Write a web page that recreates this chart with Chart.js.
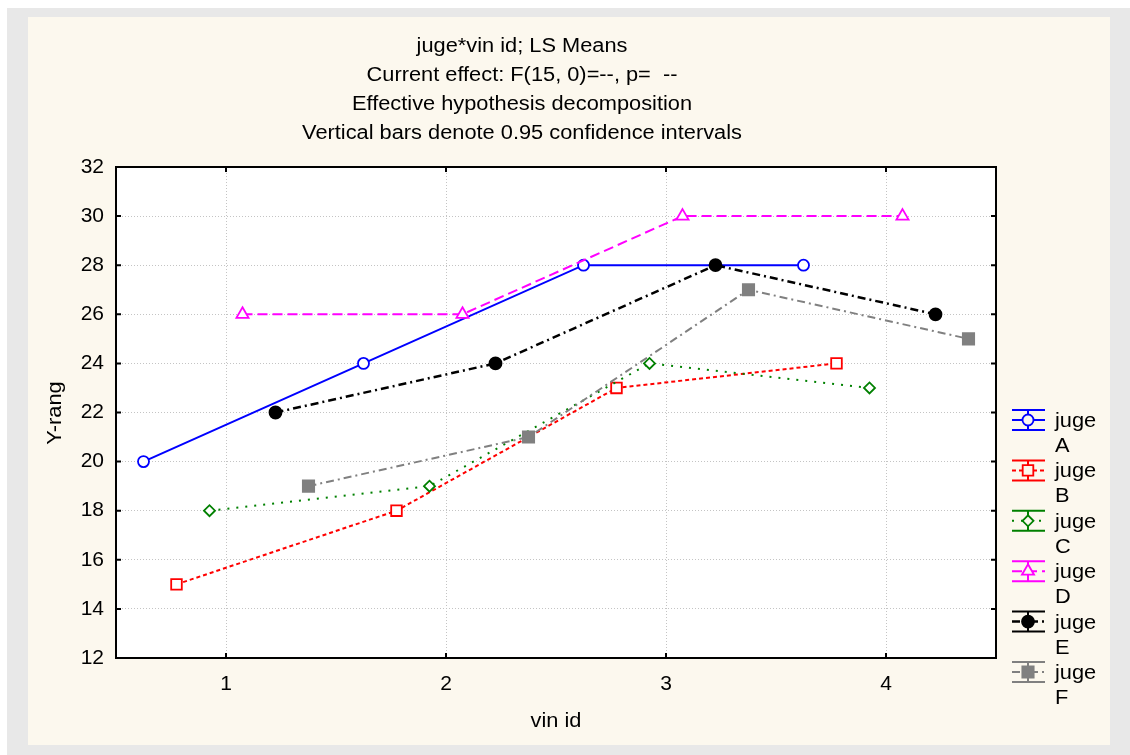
<!DOCTYPE html>
<html>
<head>
<meta charset="utf-8">
<script src="https://cdn.jsdelivr.net/npm/chart.js@4"></script>
<style>
    html, body { margin: 0; padding: 0; background: #ffffff; }
    canvas { display: block; }
</style>
</head>
<body>
<canvas id="chartLsMeans" width="1130" height="755"></canvas>
<script>
// valeurs
const vinIds = [1, 2, 3, 4];
const yTicks = [12, 14, 16, 18, 20, 22, 24, 26, 28, 30, 32];
const juges = ['A', 'B', 'C', 'D', 'E', 'F'];
const dodge = [-0.375, -0.225, -0.075, 0.075, 0.225, 0.375];

const rangA = [20, 24, 28, 28];
const rangB = [15, 18, 23, 24];
const rangC = [18, 19, 24, 23];
const rangD = [26, 26, 30, 30];
const rangE = [22, 24, 28, 26];
const rangF = [19, 21, 27, 25];

const titleLines = [
    'juge*vin id; LS Means',
    'Current effect: F(15, 0)=--, p=  --',
    'Effective hypothesis decomposition',
    'Vertical bars denote 0.95 confidence intervals'
];

const FONT = '"Liberation Sans", Arial, sans-serif';
const CREAM = '#fcf8ee';
const STRETCH = 1.09;

const styles = [
    { color: '#0000ff', dash: [], width: 2, point: 'circle', radius: 5.5, fill: '#ffffff' },
    { color: '#ff0000', dash: [4, 3], width: 2, point: 'rect', radius: 7.5, fill: '#ffffff' },
    { color: '#008000', dash: [2, 7], width: 2, point: 'rectRot', radius: 5.5, fill: '#ffffff' },
    { color: '#ff00ff', dash: [10, 5], width: 2, point: 'triangle', radius: 7, fill: '#ffffff' },
    { color: '#000000', dash: [8, 4, 2, 4], width: 2.5, point: 'circle', radius: 6, fill: '#000000' },
    { color: '#808080', dash: [8, 4, 2, 4], width: 2, point: 'rect', radius: 8, fill: '#808080' }
];

const series = [rangA, rangB, rangC, rangD, rangE, rangF];

function toPoints(values, i) {
    return values.map((v, k) => ({ x: vinIds[k] + dodge[i], y: v }));
}

const datasets = series.map((values, i) => {
    const s = styles[i];
    return {
        label: 'juge ' + juges[i],
        data: toPoints(values, i),
        borderColor: s.color,
        borderWidth: s.width,
        borderDash: s.dash,
        pointStyle: s.point,
        pointRadius: s.radius,
        pointBorderColor: s.color,
        pointBackgroundColor: s.fill,
        pointBorderWidth: 1.8,
        tension: 0,
        fill: false,
        order: 6 - i
    };
});

// texte un peu élargi comme dans l'original
function wideText(ctx, text, x, y) {
    ctx.save();
    ctx.translate(x, y);
    ctx.scale(STRETCH, 1);
    ctx.fillText(text, 0, 0);
    ctx.restore();
}

// fond gris + panneau crème
const backgroundPlugin = {
    id: 'backgroundPlugin',
    beforeDraw(chart) {
        const ctx = chart.ctx;
        const a = chart.chartArea;
        ctx.save();
        ctx.fillStyle = '#ffffff';
        ctx.fillRect(0, 0, chart.width, chart.height);
        ctx.fillStyle = '#e8e8e8';
        ctx.fillRect(7, 8, chart.width - 7, chart.height - 8);
        ctx.fillStyle = CREAM;
        ctx.fillRect(28, 17, 1082, 728);
        ctx.fillStyle = '#ffffff';
        ctx.fillRect(a.left, a.top, a.right - a.left, a.bottom - a.top);
        ctx.restore();
    }
};

// cadre, ticks intérieurs, titres, légende
const decorPlugin = {
    id: 'decorPlugin',
    afterDraw(chart) {
        const ctx = chart.ctx;
        const a = chart.chartArea;
        const xs = chart.scales.x;
        const ys = chart.scales.y;
        ctx.save();

        ctx.strokeStyle = '#000000';
        ctx.lineWidth = 2;
        ctx.setLineDash([]);
        ctx.strokeRect(a.left, a.top, a.right - a.left, a.bottom - a.top);

        ctx.beginPath();
        yTicks.forEach(v => {
            const py = ys.getPixelForValue(v);
            ctx.moveTo(a.left, py); ctx.lineTo(a.left + 5, py);
            ctx.moveTo(a.right, py); ctx.lineTo(a.right - 5, py);
        });
        vinIds.forEach(v => {
            const px = xs.getPixelForValue(v);
            ctx.moveTo(px, a.bottom); ctx.lineTo(px, a.bottom - 5);
            ctx.moveTo(px, a.top); ctx.lineTo(px, a.top + 5);
        });
        ctx.stroke();

        ctx.fillStyle = '#000000';
        ctx.font = '20px ' + FONT;
        ctx.textAlign = 'center';
        ctx.textBaseline = 'middle';
        titleLines.forEach((t, i) => wideText(ctx, t, 522, 46 + i * 29));

        wideText(ctx, 'vin id', (a.left + a.right) / 2, 721);
        ctx.save();
        ctx.translate(55, 413);
        ctx.rotate(-Math.PI / 2);
        wideText(ctx, 'Y-rang', 0, 0);
        ctx.restore();

        // légende
        const x1 = 1012, x2 = 1045, xc = 1028;
        chart.data.datasets.forEach((ds, i) => {
            const s = styles[i];
            const cy = 420 + i * 50.4;
            ctx.strokeStyle = s.color;
            ctx.lineWidth = 2;
            ctx.setLineDash([]);
            ctx.beginPath();
            ctx.moveTo(x1, cy - 10); ctx.lineTo(x2, cy - 10);
            ctx.moveTo(x1, cy + 10); ctx.lineTo(x2, cy + 10);
            ctx.moveTo(xc, cy - 10); ctx.lineTo(xc, cy + 10);
            ctx.stroke();
            ctx.setLineDash(s.dash);
            ctx.lineWidth = s.width;
            ctx.beginPath();
            ctx.moveTo(x1, cy); ctx.lineTo(x2, cy);
            ctx.stroke();
            ctx.setLineDash([]);
            ctx.fillStyle = s.fill === '#ffffff' ? CREAM : s.fill;
            ctx.strokeStyle = s.color;
            ctx.lineWidth = 1.8;
            Chart.helpers.drawPoint(ctx, {
                pointStyle: s.point, radius: s.radius, rotation: 0, borderWidth: 1.8
            }, xc, cy);

            ctx.fillStyle = '#000000';
            ctx.textAlign = 'left';
            ctx.textBaseline = 'alphabetic';
            ctx.font = '20px ' + FONT;
            wideText(ctx, 'juge', 1055, cy + 7);
            wideText(ctx, juges[i], 1055, cy + 32);
        });
        ctx.restore();
    }
};

const chart = new Chart(document.getElementById('chartLsMeans').getContext('2d'), {
    type: 'line',
    data: { datasets: datasets },
    options: {
        responsive: false,
        animation: false,
        devicePixelRatio: 1,
        layout: { padding: { left: 0, top: 167, right: 134, bottom: 0 } },
        plugins: {
            legend: { display: false },
            title: { display: false },
            tooltip: { enabled: false }
        },
        scales: {
            x: {
                type: 'linear',
                min: 0.5,
                max: 4.5,
                afterBuildTicks: scale => { scale.ticks = vinIds.map(v => ({ value: v })); },
                afterFit: scale => { scale.height = 97; },
                grid: { color: '#c4c4c4', lineWidth: 1, drawTicks: false },
                border: { display: false, dash: [1, 2] },
                ticks: { color: '#000000', font: { family: FONT, size: 21 }, padding: 14 }
            },
            y: {
                min: 12,
                max: 32,
                afterBuildTicks: scale => { scale.ticks = yTicks.map(v => ({ value: v })); },
                afterFit: scale => { scale.width = 116; },
                grid: { color: '#c4c4c4', lineWidth: 1, drawTicks: false },
                border: { display: false, dash: [1, 2] },
                ticks: { color: '#000000', font: { family: FONT, size: 21 }, padding: 12 }
            }
        }
    },
    plugins: [backgroundPlugin, decorPlugin]
});
</script>
</body>
</html>
